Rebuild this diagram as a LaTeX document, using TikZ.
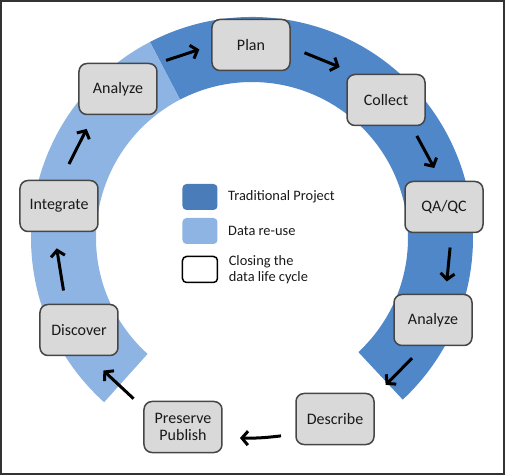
\documentclass[tikz,border=0pt]{standalone}
\usepackage{fontspec}
\setmainfont{Carlito}
\usetikzlibrary{arrows.meta, positioning, calc}
\definecolor{azulosc}{RGB}{80,135,201}
\definecolor{azulcla}{RGB}{142,180,227}
\definecolor{grisbox}{RGB}{217,217,217}
\definecolor{bordebox}{RGB}{70,70,70}

\begin{document}
\begin{tikzpicture}[x=1pt, y=1pt,
        paso/.style={rectangle, rounded corners=8pt, draw=bordebox, line width=1.5pt, fill=grisbox, minimum width=78pt, minimum height=51pt, align=center, text=black!90, font=\fontsize{16}{17.5}\selectfont},
        muestra/.style={rectangle, rounded corners=4pt, minimum width=35pt, minimum height=26pt},
        texto/.style={align=left, text=black!90, font=\fontsize{14.4}{16}\selectfont},
        flecha/.style={-{Straight Barb[length=6pt, width=14pt]}, line width=3pt}]
        \useasboundingbox (-252,-238) rectangle (254,238);
        \draw[line width=1.5pt, black!80] (-251,-236) rectangle (252,237);
        % anillo
        \fill[azulosc] (117.5:221) arc[start angle=117.5, end angle=-47, radius=221] -- (-47:156) arc[start angle=-47, end angle=117.5, radius=156] -- cycle;
        \fill[azulcla] (117.5:221) arc[start angle=117.5, end angle=228, radius=221] -- (228:156) arc[start angle=228, end angle=117.5, radius=156] -- cycle;
        % pasos
        \node[paso] (plan) at (-1,193) {Plan};
        \node[paso] (coll) at (134,138) {Collect};
        \node[paso] (qaqc) at (192,31) {QA/QC};
        \node[paso] (anl2) at (181,-82) {Analyze};
        \node[paso] (desc) at (83,-181) {Describe};
        \node[paso] (pres) at (-69,-189) {Preserve\\Publish};
        \node[paso] (disc) at (-173,-92) {Discover};
        \node[paso] (integ) at (-193,32) {Integrate};
        \node[paso] (anl1) at (-134,149) {Analyze};
        % flechas
        \draw[flecha] ($(anl1)!.39!(plan)!12pt!90:(plan)$) -- ($(anl1)!.64!(plan)!12pt!90:(plan)$);
        \draw[flecha] ($(plan)!.36!(coll)!13pt!90:(coll)$) -- ($(plan)!.62!(coll)!13pt!90:(coll)$);
        \draw[flecha] ($(coll)!.38!(qaqc)!10pt!90:(qaqc)$) -- ($(coll)!.68!(qaqc)!10pt!90:(qaqc)$);
        \draw[flecha] ($(qaqc)!.35!(anl2)!10pt!90:(anl2)$) -- ($(qaqc)!.65!(anl2)!10pt!90:(anl2)$);
        \draw[flecha] ($(anl2)!.30!(desc)!12pt!90:(desc)$) -- ($(anl2)!.57!(desc)!12pt!90:(desc)$);
        \draw[flecha] ($(desc)!.36!(pres)!14pt!90:(pres)$) to[bend left=4] ($(desc)!.63!(pres)!14pt!90:(pres)$);
        \draw[flecha] ($(pres)!.39!(disc)!13pt!90:(disc)$) -- ($(pres)!.68!(disc)!13pt!90:(disc)$);
        \draw[flecha] ($(disc)!.33!(integ)!9pt!90:(integ)$) -- ($(disc)!.67!(integ)!9pt!90:(integ)$);
        \draw[flecha] ($(integ)!.32!(anl1)!10pt!90:(anl1)$) -- ($(integ)!.62!(anl1)!10pt!90:(anl1)$);
        % leyenda
        \node[muestra, fill=azulosc!92!black] (ley1) at (-52,41) {};
        \node[muestra, fill=azulcla] (ley2) at (-52,7) {};
        \node[muestra, draw=black, line width=1.5pt, fill=white] (ley3) at (-52,-31.5) {};
        \node[texto, right=7pt of ley1] (txt1) {Traditional Project};
        \node[texto, right=7pt of ley2] (txt2) {Data re-use};
        \node[texto, right=7pt of ley3] (txt3) {Closing the\\data life cycle};
    \end{tikzpicture}
\end{document}
